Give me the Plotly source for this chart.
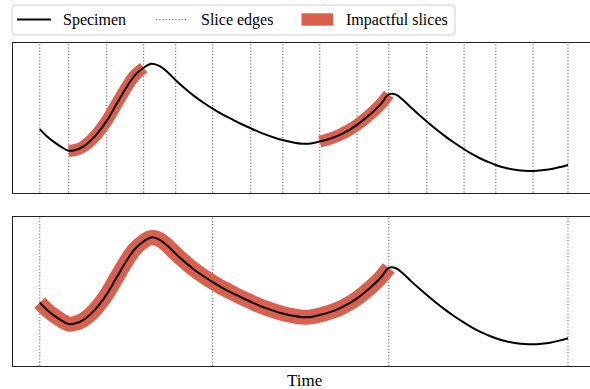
import plotly.graph_objects as go
from plotly.subplots import make_subplots

# Specimen signal: time steps and values
time = [0, 2, 4, 6, 8.2, 10.2, 12.3, 15.5, 19.0, 22.0, 24.6, 27.0, 29.5,
        31.7, 34.1, 36.3, 38.6, 41.0, 43.6, 46.3, 49.1, 52.0, 54.9, 57.4,
        59.9, 62.2, 64.4, 66.7, 69.0, 71.8, 74.5, 77.0, 79.5, 82.4, 85.2,
        87.7, 90.1, 92.4, 94.7, 97.0, 99.1, 101.0, 103.0, 105.5, 107.7,
        109.9, 112.2, 114.6, 117.5, 120.5, 122.7, 125.0, 127.2, 129.5,
        132.4, 135.4, 137.7, 140.1, 142.5, 144.9, 147.5, 150]
value = [-0.283, -0.46, -0.6, -0.72, -0.82, -0.8, -0.72, -0.475, -0.075,
         0.375, 0.76, 1.06, 1.25, 1.35, 1.29, 1.14, 0.94, 0.75, 0.56, 0.39,
         0.23, 0.08, -0.05, -0.16, -0.26, -0.35, -0.425, -0.495, -0.555,
         -0.61, -0.645, -0.64, -0.59, -0.52, -0.425, -0.31, -0.175, -0.018,
         0.158, 0.36, 0.585, 0.585, 0.46, 0.25, 0.075, -0.093, -0.26, -0.425,
         -0.61, -0.783, -0.9, -1.008, -1.095, -1.175, -1.25, -1.3, -1.32,
         -1.325, -1.31, -1.283, -1.233, -1.175]

# Slice edges for the fine (top) and coarse (bottom) segmentation
edges_fine = [0, 8.2, 19.0, 29.5, 38.6, 49.1, 59.9, 69.0, 79.5, 90.1, 99.1,
              109.9, 120.5, 129.5, 140.1, 150]
edges_coarse = [0, 49.1, 99.1, 150]

# Indices of the slices flagged as impactful
impactful_fine = [1, 2, 8, 9]
impactful_coarse = [0, 1]

RED = "#d9604d"
EDGE_GREY = "#6e6e6e"
FONT = "Liberation Serif"

W, H = 590, 389
L, R, T, B = 13, 590, 43, 366


def px(x):
    return (x - L) / (R - L)


def py(y):
    return (B - y) / (B - T)


def spans(slice_ids, edges):
    """Merge contiguous slice indices into (start, end) time spans."""
    out = []
    for i in sorted(slice_ids):
        if out and out[-1][1] == edges[i]:
            out[-1] = (out[-1][0], edges[i + 1])
        else:
            out.append((edges[i], edges[i + 1]))
    return out


fig = make_subplots(rows=2, cols=1)

panels = [
    (1, edges_fine, impactful_fine, 12),
    (2, edges_coarse, impactful_coarse, 15),
]

for row, edges, impactful, red_w in panels:
    for a, b in spans(impactful, edges):
        xs = [t for t in time if a <= t <= b]
        ys = [v for t, v in zip(time, value) if a <= t <= b]
        fig.add_trace(go.Scatter(x=xs, y=ys, mode="lines",
                                 line=dict(color=RED, width=red_w,
                                           shape="spline", smoothing=1.0),
                                 showlegend=False, hoverinfo="skip"),
                      row=row, col=1)
    fig.add_trace(go.Scatter(x=time, y=value, mode="lines",
                             line=dict(color="black", width=2,
                                       shape="spline", smoothing=1.0),
                             showlegend=False),
                  row=row, col=1)
    for e in edges:
        fig.add_vline(x=e, line=dict(color=EDGE_GREY, width=1.1, dash="1.2px,2px"),
                      layer="below", row=row, col=1)

axis_common = dict(showgrid=False, zeroline=False, showticklabels=False,
                   ticks="", showline=True, linecolor="#222222", linewidth=1)

fig.update_xaxes(range=[-7.6, 156.25], mirror=True, **axis_common)
fig.update_yaxes(range=[-1.8675, 1.8675], mirror=False, **axis_common)
fig.update_layout(
    yaxis=dict(domain=[py(192.7), 1]),
    yaxis2=dict(domain=[0, py(216.7)]),
    xaxis=dict(domain=[0, 1]),
    xaxis2=dict(domain=[0, 1]),
)

# Legend drawn as a framed box above the panels
r = 3
x0, x1, y0, y1 = 12, 455, 5, 35
box = (f"M {px(x0 + r)} {py(y0)} L {px(x1 - r)} {py(y0)} "
       f"Q {px(x1)} {py(y0)} {px(x1)} {py(y0 + r)} L {px(x1)} {py(y1 - r)} "
       f"Q {px(x1)} {py(y1)} {px(x1 - r)} {py(y1)} L {px(x0 + r)} {py(y1)} "
       f"Q {px(x0)} {py(y1)} {px(x0)} {py(y1 - r)} L {px(x0)} {py(y0 + r)} "
       f"Q {px(x0)} {py(y0)} {px(x0 + r)} {py(y0)} Z")
fig.add_shape(type="path", path=box, xref="paper", yref="paper",
              line=dict(color="#d0d0d0", width=1), fillcolor="white")
fig.add_shape(type="line", xref="paper", yref="paper",
              x0=px(17), x1=px(51), y0=py(19.5), y1=py(19.5),
              line=dict(color="black", width=2))
fig.add_shape(type="line", xref="paper", yref="paper",
              x0=px(156), x1=px(186), y0=py(19.5), y1=py(19.5),
              line=dict(color=EDGE_GREY, width=1.1, dash="1.2px,2px"))
fig.add_shape(type="rect", xref="paper", yref="paper",
              x0=px(301.5), x1=px(333), y0=py(13.3), y1=py(25.7),
              line=dict(width=0), fillcolor=RED)

legend_labels = [("Specimen", 60.5), ("Slice edges", 198.5), ("Impactful slices", 344)]
for text, xpos in legend_labels:
    fig.add_annotation(text=text, x=px(xpos), y=py(19.5), xref="paper", yref="paper",
                       xanchor="left", yanchor="middle", showarrow=False,
                       font=dict(family=FONT, size=16, color="black"))

fig.add_annotation(text="Time", x=px(304), y=py(380), xref="paper", yref="paper",
                   xanchor="center", yanchor="middle", showarrow=False,
                   font=dict(family=FONT, size=17, color="black"))

fig.update_layout(
    width=W, height=H,
    margin=dict(l=L, r=W - R, t=T, b=H - B),
    paper_bgcolor="white", plot_bgcolor="white",
    font=dict(family=FONT),
    showlegend=False,
)

fig.write_html("out.html")
